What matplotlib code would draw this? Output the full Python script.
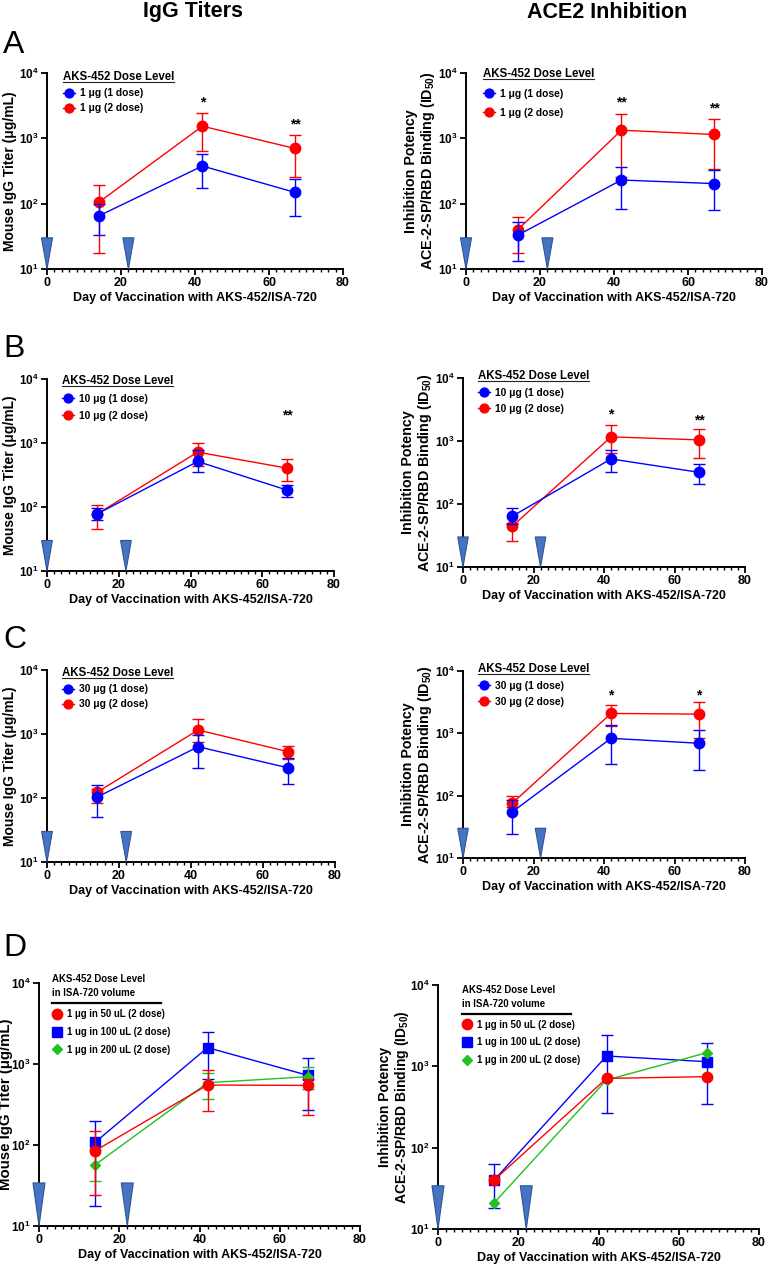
import matplotlib
matplotlib.use("Agg")
import matplotlib.pyplot as plt
from matplotlib.lines import Line2D
from matplotlib.patches import Polygon
from matplotlib.ticker import MultipleLocator, FixedLocator, FixedFormatter, NullLocator

plt.rcParams['font.family'] = ['Liberation Sans', 'DejaVu Sans']
plt.rcParams['mathtext.fontset'] = 'custom'
plt.rcParams['mathtext.rm'] = 'Liberation Sans'
plt.rcParams['mathtext.bf'] = 'Liberation Sans:bold'
plt.rcParams['mathtext.it'] = 'Liberation Sans:italic'

# sampling days and vaccination days
days = [14, 42, 67]
vaccination_days = [0, 22]

# ---- panel A (1 ug) ----
a_igg_1dose = [65, 377, 149]
a_igg_1dose_lo = [33, 172, 65]
a_igg_1dose_hi = [99, 574, 236]
a_igg_2dose = [105, 1535, 700]
a_igg_2dose_lo = [17.5, 645, 259]
a_igg_2dose_hi = [193, 2450, 1132]

a_ace_1dose = [33, 230, 203]
a_ace_1dose_lo = [13.4, 82, 80]
a_ace_1dose_hi = [52, 368, 327]
a_ace_2dose = [40, 1333, 1145]
a_ace_2dose_lo = [17.5, 259, 335]
a_ace_2dose_hi = [62, 2393, 1963]

# ---- panel B (10 ug) ----
b_igg_1dose = [78, 514, 183]
b_igg_1dose_lo = [63, 354, 144]
b_igg_1dose_hi = [95, 783, 222]
b_igg_2dose = [78, 720, 404]
b_igg_2dose_lo = [45, 430, 253]
b_igg_2dose_hi = [108, 995, 560]

b_ace_1dose = [64, 519, 318]
b_ace_1dose_lo = [49, 326, 207]
b_ace_1dose_hi = [85, 722, 432]
b_ace_2dose = [44.5, 1163, 1042]
b_ace_2dose_lo = [26, 640, 545]
b_ace_2dose_hi = [50, 1808, 1541]

# ---- panel C (30 ug) ----
c_igg_1dose = [104, 632, 296]
c_igg_1dose_lo = [50, 299, 164]
c_igg_1dose_hi = [158, 964, 415]
c_igg_2dose = [124, 1156, 528]
c_igg_2dose_lo = [85, 760, 404]
c_igg_2dose_hi = [140, 1700, 656]

c_ace_1dose = [55, 832, 692]
c_ace_1dose_lo = [24, 324, 260]
c_ace_1dose_hi = [86, 1358, 1130]
c_ace_2dose = [76, 2084, 2035]
c_ace_2dose_lo = [66, 1325, 832]
c_ace_2dose_hi = [97, 2900, 3200]

# ---- panel D (1 ug in different ISA-720 volumes) ----
d_igg_50 = [85, 550, 544]
d_igg_50_lo = [24, 261, 235]
d_igg_50_hi = [148, 844, 645]
d_igg_100 = [108, 1593, 724]
d_igg_100_lo = [17.7, 657, 267]
d_igg_100_hi = [196, 2493, 1176]
d_igg_200 = [57, 587, 697]
d_igg_200_lo = [35.5, 372, 485]
d_igg_200_hi = [90, 782, 927]

d_ace_50 = [40, 711, 746]
d_ace_100 = [40, 1340, 1140]
d_ace_100_lo = [18, 264, 344]
d_ace_100_hi = [63, 2427, 1953]
d_ace_200 = [21, 679, 1472]

# significance marks: (day, text, y)
a_igg_stars = [(42, '*', 3600), (67, '**', 1650)]
a_ace_stars = [(42, '**', 3600), (67, '**', 2900)]
b_igg_stars = [(67, '**', 2650)]
b_ace_stars = [(42, '*', 2600), (67, '**', 2100)]
c_ace_stars = [(42, '*', 4100), (67, '*', 4100)]

vol_labels = ['1 \u03bcg in 50 uL (2 dose)', '1 ug in 100 uL (2 dose)', '1 \u03bcg in 200 uL (2 dose)']

BLUE = '#0000ff'
RED = '#ff0000'
GREEN = '#22c022'
TRI_FACE = '#4774c2'
TRI_EDGE = '#2f5597'
W, H = 770, 1267

fig = plt.figure(figsize=(W / 100, H / 100), dpi=100)


def add_ax(x0, y0, x1, y1):
    return fig.add_axes([x0 / W, 1 - y1 / H, (x1 - x0) / W, (y1 - y0) / H])


def style(ax, box, ylabel, ylabel_x, ysize, tri_top):
    ax.set_yscale('log')
    ax.set_xlim(0, 80)
    ax.set_ylim(10, 1e4)
    for s in ['top', 'right']:
        ax.spines[s].set_visible(False)
    for s in ['left', 'bottom']:
        ax.spines[s].set_linewidth(1.4)
    ax.xaxis.set_major_locator(MultipleLocator(20))
    ax.xaxis.set_minor_locator(MultipleLocator(2))
    ax.yaxis.set_major_locator(FixedLocator([10, 100, 1000, 10000]))
    ax.yaxis.set_major_formatter(FixedFormatter([r'$\mathbf{10^{1}}$', r'$\mathbf{10^{2}}$',
                                                 r'$\mathbf{10^{3}}$', r'$\mathbf{10^{4}}$']))
    ax.yaxis.set_minor_locator(NullLocator())
    ax.tick_params(which='major', length=4, width=1.3, labelsize=9, pad=2)
    ax.tick_params(axis='y', labelsize=8.5)
    ax.tick_params(which='minor', length=2.5, width=1)
    for t in ax.get_xticklabels():
        t.set_fontweight('bold')
    ax.set_xlabel('Day of Vaccination with AKS-452/ISA-720', fontsize=9, fontweight='bold', labelpad=2)
    ax.set_ylabel(ylabel, fontsize=ysize, fontweight='bold', linespacing=1.05)
    # label x is the right edge of the rotated label, in figure pixels
    x0, x1 = box[0], box[2]
    ax.yaxis.set_label_coords((ylabel_x - x0) / (x1 - x0), 0.5)
    for d in vaccination_days:
        ax.add_patch(Polygon([[d - 1.5, tri_top], [d + 1.5, tri_top], [d, 10]], closed=True,
                             fc=TRI_FACE, ec=TRI_EDGE, lw=0.8, zorder=8, clip_on=False))


def series(ax, mean, lo, hi, color, marker, ms, label, z):
    line, = ax.plot(days, mean, color=color, lw=1, marker=marker, ms=ms, label=label, zorder=z)
    if lo is not None:
        err = [[m - l for m, l in zip(mean, lo)], [h - m for m, h in zip(mean, hi)]]
        ax.errorbar(days, mean, yerr=err, fmt='none', ecolor=color, elinewidth=1,
                    capsize=4, capthick=1, zorder=z - 0.5)
    return line


def stars(ax, marks):
    for d, s, y in marks:
        ax.text(d, y, s, ha='center', va='center', fontsize=10, fontweight='bold')


legends = []

IGG_LABEL = 'Mouse IgG Titer (\u03bcg/mL)'
ACE_LABEL = 'Inhibition Potency\nACE-2-SP/RBD Binding (ID$_{\\mathbf{50}}$)'

panels = [
    ((47, 73, 343, 269), (466, 73, 762, 269), '1',
     (a_igg_1dose, a_igg_1dose_lo, a_igg_1dose_hi, a_igg_2dose, a_igg_2dose_lo, a_igg_2dose_hi),
     (a_ace_1dose, a_ace_1dose_lo, a_ace_1dose_hi, a_ace_2dose, a_ace_2dose_lo, a_ace_2dose_hi),
     a_igg_stars, a_ace_stars, (0.054, 1.01), (0.057, 1.025), 0.5, 0.85),
    ((47, 379, 334, 571), (463, 378, 745, 567), '10',
     (b_igg_1dose, b_igg_1dose_lo, b_igg_1dose_hi, b_igg_2dose, b_igg_2dose_lo, b_igg_2dose_hi),
     (b_ace_1dose, b_ace_1dose_lo, b_ace_1dose_hi, b_ace_2dose, b_ace_2dose_lo, b_ace_2dose_hi),
     b_igg_stars, b_ace_stars, (0.052, 1.02), (0.053, 1.04), 0.65, 0.55),
    ((47, 670, 335, 862), (463, 671, 745, 858), '30',
     (c_igg_1dose, c_igg_1dose_lo, c_igg_1dose_hi, c_igg_2dose, c_igg_2dose_lo, c_igg_2dose_hi),
     (c_ace_1dose, c_ace_1dose_lo, c_ace_1dose_hi, c_ace_2dose, c_ace_2dose_lo, c_ace_2dose_hi),
     [], c_ace_stars, (0.052, 1.015), (0.053, 1.045), 0.5, 0.6),
]

for box_l, box_r, dose, igg, ace, st_l, st_r, anc_l, anc_r, sp_l, sp_r in panels:
    for box, vals, st, anc, sp, ylabel, ylx, ysz in [
            (box_l, igg, st_l, anc_l, sp_l, IGG_LABEL, 17, 10),
            (box_r, ace, st_r, anc_r, sp_r, ACE_LABEL, box_r[0] - 29, 10.3)]:
        ax = add_ax(*box)
        style(ax, box, ylabel, ylx, ysz, 30)
        red = series(ax, vals[3], vals[4], vals[5], RED, 'o', 7.5, dose + ' \u03bcg (2 dose)', 3)
        blue = series(ax, vals[0], vals[1], vals[2], BLUE, 'o', 7.5, dose + ' \u03bcg (1 dose)', 4)
        stars(ax, st)
        leg = ax.legend([blue, red], [blue.get_label(), red.get_label()],
                        loc='upper left', bbox_to_anchor=anc, frameon=False,
                        title='AKS-452 Dose Level',
                        title_fontproperties={'weight': 'bold', 'size': 8.3},
                        prop={'weight': 'bold', 'size': 7.4}, alignment='left',
                        handlelength=1.2, handletextpad=0.5, labelspacing=sp,
                        borderpad=0, borderaxespad=0, markerscale=0.85)
        legends.append((leg, 'underline'))

# ---- panel D ----
vol_styles = [(RED, 'o', 7.5), (BLUE, 's', 7), (GREEN, 'D', 5)]
d_panels = [
    ((39, 983, 360, 1226), IGG_LABEL, 13, 10.8,
     [(d_igg_100, d_igg_100_lo, d_igg_100_hi, 1), (d_igg_200, d_igg_200_lo, d_igg_200_hi, 2),
      (d_igg_50, d_igg_50_lo, d_igg_50_hi, 0)], (0.04, 1.035)),
    ((438, 985, 759, 1229), ACE_LABEL, 411, 10,
     [(d_ace_100, d_ace_100_lo, d_ace_100_hi, 1), (d_ace_200, None, None, 2),
      (d_ace_50, None, None, 0)], (0.075, 1.0)),
]
for box, ylabel, ylx, ysz, rows, anc in d_panels:
    ax = add_ax(*box)
    style(ax, box, ylabel, ylx, ysz, 34)
    for z, (mean, lo, hi, k) in enumerate(rows):
        c, m, ms = vol_styles[k]
        series(ax, mean, lo, hi, c, m, ms, vol_labels[k], 3 + z)
    handles = [Line2D([], [], ls='none', color=c, marker=m, ms=ms) for c, m, ms in vol_styles]
    leg = ax.legend(handles, vol_labels, loc='upper left', bbox_to_anchor=anc, frameon=False,
                    title='AKS-452 Dose Level\nin ISA-720 volume',
                    title_fontproperties={'size': 6.9, 'weight': 'bold'},
                    prop={'size': 6.9, 'weight': 'bold'},
                    alignment='left', handlelength=1.0, handletextpad=0.6, labelspacing=0.8,
                    borderpad=0, borderaxespad=0)
    leg.get_title().set_linespacing(1.45)
    leg._legend_box.sep = 8
    legends.append((leg, 'rule'))

# column titles and panel letters
fig.text(193 / W, 1 - 12 / H, 'IgG Titers', ha='center', va='center', fontsize=15.5, fontweight='bold')
fig.text(607 / W, 1 - 12 / H, 'ACE2 Inhibition', ha='center', va='center', fontsize=15.5, fontweight='bold')
for letter, y in [('A', 45), ('B', 349), ('C', 640), ('D', 948)]:
    fig.text(3 / W, 1 - y / H, letter, ha='left', va='center', fontsize=23)

# underline / rule below the legend titles
fig.canvas.draw()
inv = fig.transFigure.inverted()
for leg, kind in legends:
    bb = leg.get_title().get_window_extent()
    if kind == 'underline':
        (x0, y0), (x1, _) = inv.transform([(bb.x0, bb.y0 + 1), (bb.x1, bb.y0 + 1)])
        fig.add_artist(Line2D([x0, x1], [y0, y0], color='#222222', lw=0.8))
    else:
        (x0, y0), (x1, _) = inv.transform([(bb.x0, bb.y0 - 5), (bb.x1 + 16, bb.y0 - 5)])
        fig.add_artist(Line2D([x0, x1], [y0, y0], color='black', lw=1.6))

fig.savefig('out.png', dpi=100)
